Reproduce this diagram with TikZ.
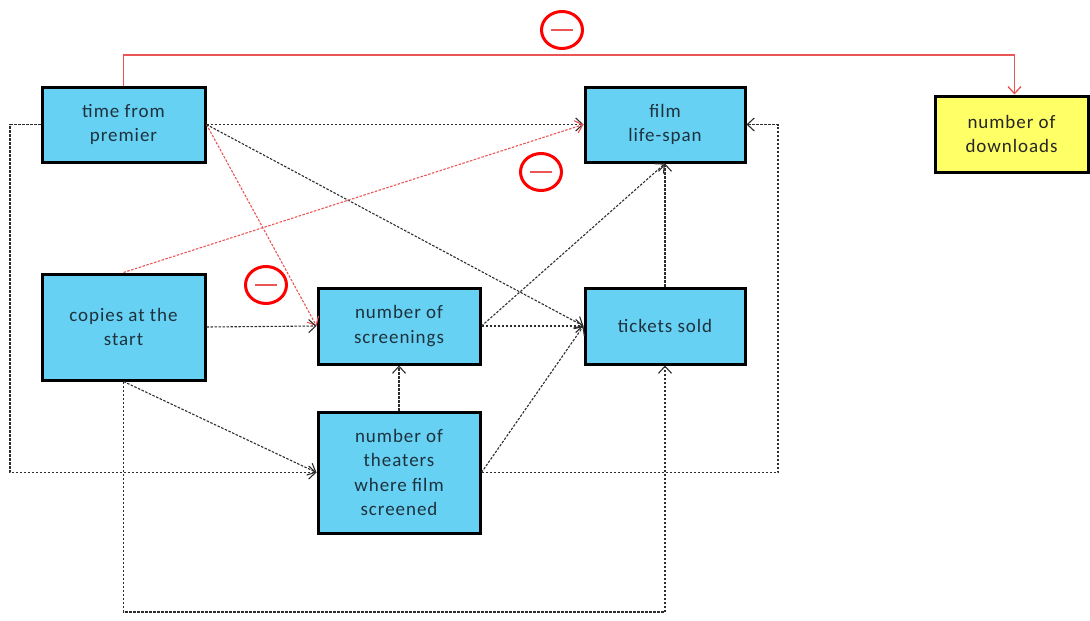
\documentclass[tikz,border=0pt]{standalone}
\usepackage{fontspec}
\setmainfont{Carlito}
\newfontfamily\boxfont{Carlito}[LetterSpace=5]
\usetikzlibrary{arrows.meta,shapes.geometric}
\definecolor{boxblue}{RGB}{102,209,243}
\definecolor{boxyellow}{RGB}{255,255,102}
\definecolor{txt}{RGB}{30,50,62}
\definecolor{lnred}{RGB}{235,85,85}
\definecolor{lngray}{RGB}{45,45,45}
\tikzset{
  vbox/.style={draw=black, line width=3pt, fill=boxblue, align=center,
    text=txt, font=\boxfont\fontsize{19}{24.5}\selectfont, inner sep=0pt},
  ybox/.style={vbox, fill=boxyellow, text={black!85}},
  dep/.style={draw=lngray, line width=1.1pt, dash pattern=on 2.5pt off 1.5pt,
    -{Straight Barb[length=7pt,width=13pt]}},
  negdep/.style={dep, draw=lnred},
  negsolid/.style={draw=lnred, line width=1.3pt, -{Straight Barb[length=7pt,width=13pt]}},
  negsign/.style={ellipse, draw=red, line width=3pt, minimum width=41pt, minimum height=37pt,
    path picture={\draw[lnred, line width=1.6pt] ([xshift=-11pt]path picture bounding box.center) -- ([xshift=11pt]path picture bounding box.center);}}
}
\begin{document}
\begin{tikzpicture}[x=1pt,y=-1pt]
\useasboundingbox (0,0) rectangle (1090,621);
% nodes
\node[vbox, minimum width=163pt, minimum height=75pt] (tp) at (123.5,124.5) {time from\\premier};
\node[vbox, minimum width=160pt, minimum height=75pt] (fl) at (665,124.5) {film\\life-span};
\node[ybox, minimum width=153pt, minimum height=76pt] (dl) at (1011.5,134) {number of\\downloads};
\node[vbox, minimum width=163pt, minimum height=106pt] (cs) at (123.5,327) {copies at the\\start};
\node[vbox, minimum width=162pt, minimum height=76pt] (sc) at (399,326) {number of\\screenings};
\node[vbox, minimum width=160pt, minimum height=76pt] (ts) at (665,326) {tickets sold};
\node[vbox, minimum width=162pt, minimum height=121pt] (th) at (399,472.5) {number of\\theaters\\where film\\screened};
% helper coordinates
\coordinate (topline) at (560,55);
\coordinate (leftline) at (10,300);
\coordinate (rightline) at (778,300);
\coordinate (bottomline) at (665,612);
% minus signs
\node[negsign] (m1) at (562,30) {};
\node[negsign] (m2) at (541,172) {};
\node[negsign] (m3) at (266,285) {};
% connectors
\draw[negsolid] (tp.north) |- (topline) -| ([xshift=3pt]dl.north);
\draw[dep] (tp.east) -- (fl.west);
\draw[negdep] (tp.east) -- (sc.west);
\draw[dep] (tp.east) -- (ts.west);
\draw[negdep] (cs.north) -- (fl.west);
\draw[dep] (cs.east) -- (sc.west);
\draw[dep] (cs.south) -- (th.west);
\draw[dep] (cs.south) |- (bottomline) -- (ts.south);
\draw[dep] (tp.west) -| (leftline) |- (th.west);
\draw[dep] (sc.east) -- (ts.west);
\draw[dep] (sc.east) -- (fl.south);
\draw[dep] (th.north) -- (sc.south);
\draw[dep] (th.east) -- (ts.west);
\draw[dep] (th.east) -| (rightline) |- (fl.east);
\draw[dep] (ts.north) -- (fl.south);
\end{tikzpicture}
\end{document}
